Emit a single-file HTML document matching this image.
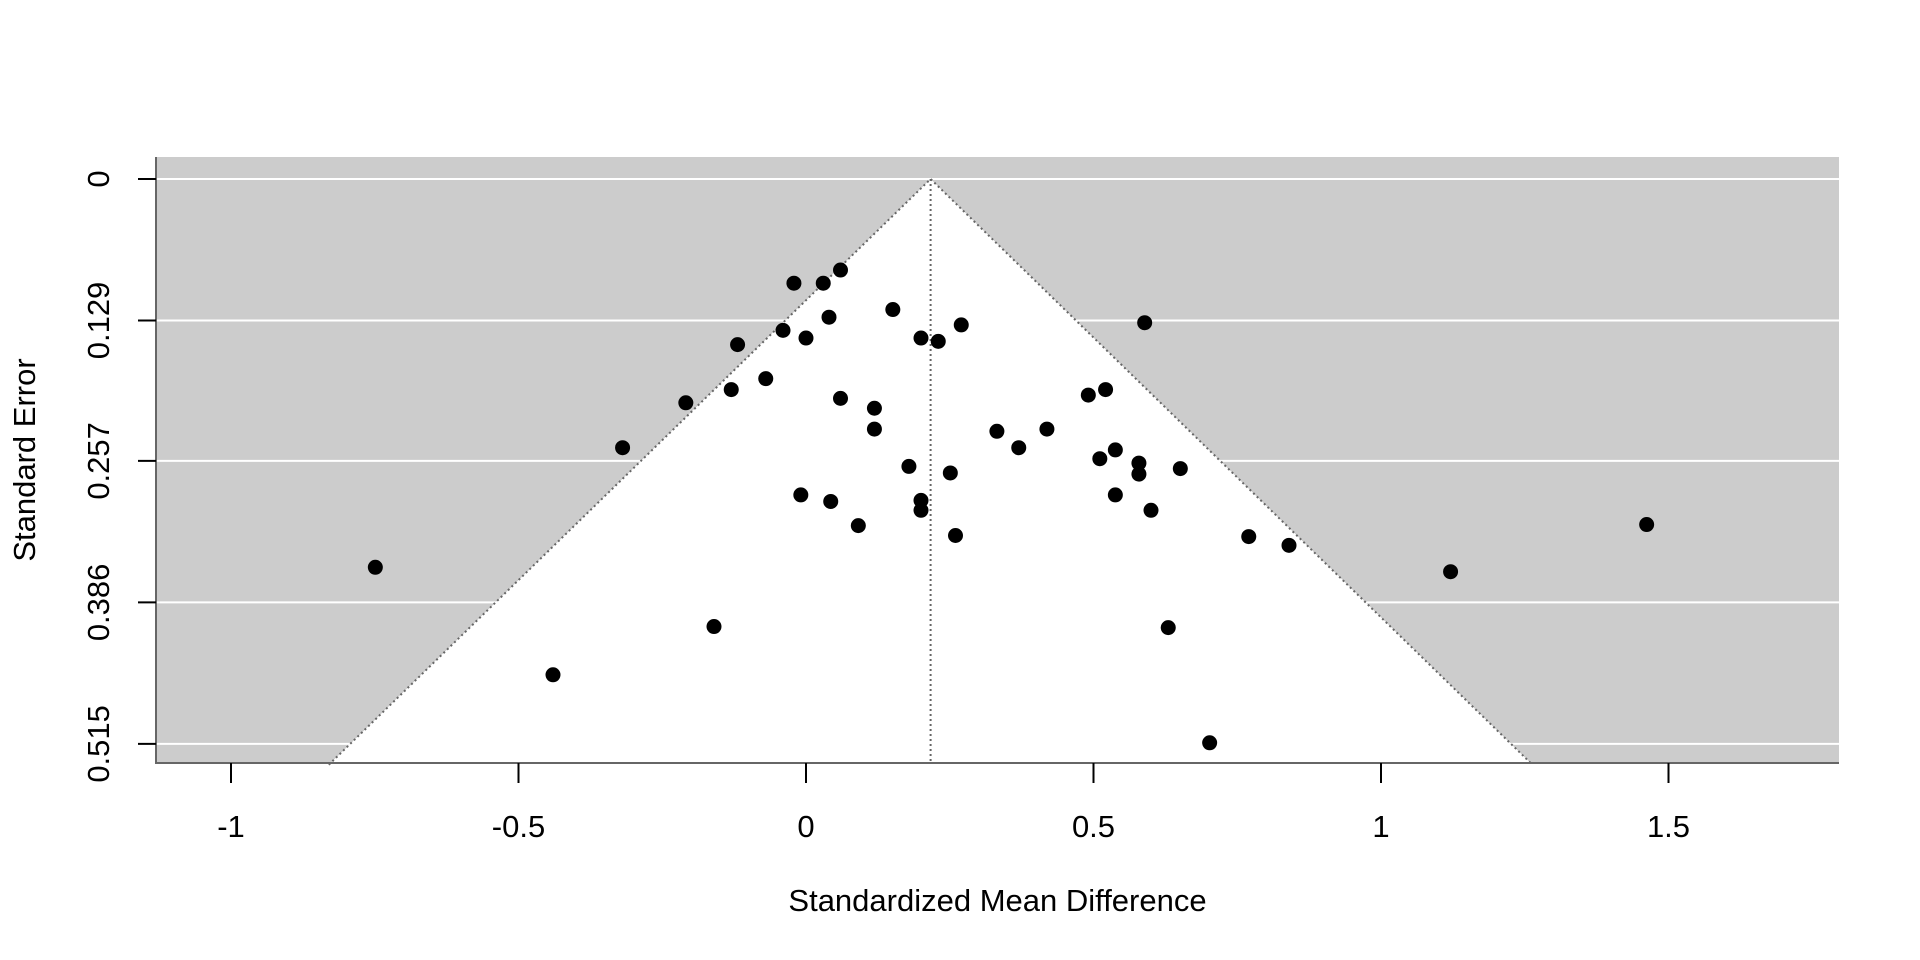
<!DOCTYPE html>
<html><head><meta charset="utf-8"><style>
html,body{margin:0;padding:0;background:#fff;}
svg{display:block;font-family:"Liberation Sans",Arial,sans-serif;}
</style></head><body>
<svg id="chart" width="1920" height="960" viewBox="0 0 1920 960" xmlns="http://www.w3.org/2000/svg"></svg>
<script>
const estimates = [0.060,-0.021,0.030,0.151,0.040,0.589,0.270,-0.040,0.200,0.230,0.000,-0.119,-0.070,-0.130,-0.209,0.060,0.119,0.491,0.521,0.119,0.332,0.419,0.370,-0.319,0.538,0.511,0.579,0.179,0.651,0.251,0.579,-0.009,0.538,0.043,0.200,0.200,0.600,0.091,0.260,0.770,0.840,1.462,-0.749,1.121,-0.160,0.630,-0.440,0.702];
const stdErrors = [0.083,0.095,0.095,0.119,0.126,0.131,0.133,0.138,0.145,0.148,0.145,0.151,0.182,0.192,0.204,0.200,0.209,0.197,0.192,0.228,0.230,0.228,0.245,0.245,0.247,0.255,0.259,0.262,0.264,0.268,0.269,0.288,0.288,0.294,0.293,0.302,0.302,0.316,0.325,0.326,0.334,0.315,0.354,0.358,0.408,0.409,0.452,0.514];
const xTicks = [-1,-0.5,0,0.5,1,1.5];
const xTickLabels = ["-1","-0.5","0","0.5","1","1.5"];
const yTicks = [0,0.129,0.257,0.386,0.515];
const yTickLabels = ["0","0.129","0.257","0.386","0.515"];
const pooledEstimate = 0.2167;
const seMax = 0.534;

const svg = document.getElementById('chart');
const NS = 'http://www.w3.org/2000/svg';
const L=156, R=1839, T=157, B=763;
const xs = v => 806 + v*575;
const ys = v => 179 + v/0.129*141.5;
function mk(tag, attrs, parent){const e=document.createElementNS(NS,tag);for(const k in attrs)e.setAttribute(k,attrs[k]);(parent||svg).appendChild(e);return e;}

let e = mk('rect',{x:L,y:T,width:R-L,height:B-T,fill:'#cccccc'});


yTicks.forEach((t,i)=>{
  const g = mk('line',{x1:L,x2:R,y1:ys(t),y2:ys(t),stroke:'#fff','stroke-width':2});
  
  
});
const lo = pooledEstimate-1.96*seMax, hi = pooledEstimate+1.96*seMax;
e = mk('polygon',{points:`${xs(pooledEstimate)},${ys(0)} ${xs(lo)},${ys(seMax)} ${xs(hi)},${ys(seMax)}`,fill:'#fff'});


e = mk('polyline',{points:`${xs(lo)},${ys(seMax)} ${xs(pooledEstimate)},${ys(0)} ${xs(hi)},${ys(seMax)}`,fill:'none',stroke:'#666','stroke-width':2,'stroke-dasharray':'2,3'});


e = mk('line',{x1:xs(pooledEstimate),x2:xs(pooledEstimate),y1:ys(0),y2:B,stroke:'#666','stroke-width':2,'stroke-dasharray':'2,3'});


estimates.forEach((v,i)=>{
  const c = mk('circle',{cx:xs(v),cy:ys(stdErrors[i]),r:7.5,fill:'#000'});
  
  
});
e = mk('polyline',{points:`${L},${T} ${L},${B} ${R},${B}`,fill:'none',stroke:'#666','stroke-width':2});


xTicks.forEach((t,i)=>{
  const l = mk('line',{x1:xs(t),x2:xs(t),y1:B,y2:B+20,stroke:'#000','stroke-width':2});
  
  
  const tx = mk('text',{x:xs(t),y:837,'text-anchor':'middle','font-size':31});
  tx.textContent = xTickLabels[i];
  
  
});
yTicks.forEach((t,i)=>{
  const l = mk('line',{x1:L-18,x2:L,y1:ys(t),y2:ys(t),stroke:'#000','stroke-width':2});
  
  
  const tx = mk('text',{x:0,y:0,'text-anchor':'middle','font-size':31,transform:`translate(109,${ys(t)}) rotate(-90)`});
  tx.textContent = yTickLabels[i];
  
  
});
e = mk('text',{x:(L+R)/2,y:911,'text-anchor':'middle','font-size':31});
e.textContent='Standardized Mean Difference';


e = mk('text',{x:0,y:0,'text-anchor':'middle','font-size':31,transform:`translate(35,${(T+B)/2}) rotate(-90)`});
e.textContent='Standard Error';


</script>
</body></html>
